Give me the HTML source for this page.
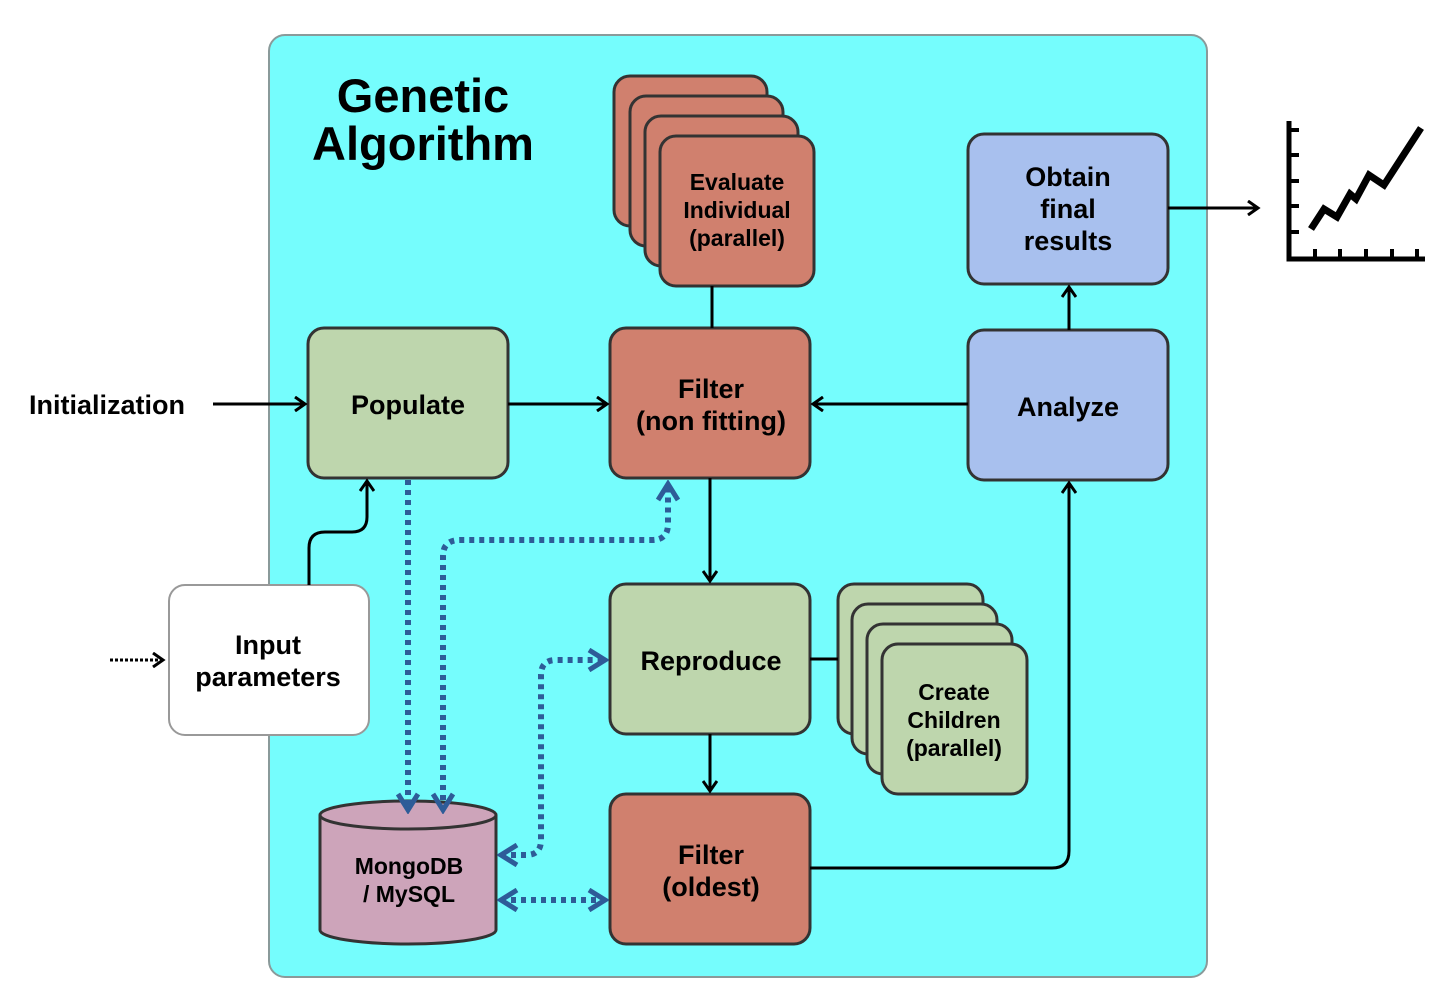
<!DOCTYPE html>
<html><head><meta charset="utf-8"><style>
html,body{margin:0;padding:0;background:#fff;}
svg{display:block}
text{font-family:"Liberation Sans",sans-serif;font-weight:bold;fill:#000;text-anchor:middle}
</style></head><body>
<svg width="1450" height="1008" viewBox="0 0 1450 1008" xmlns="http://www.w3.org/2000/svg">
<defs>
<marker id="ab" markerWidth="16" markerHeight="16" refX="12" refY="8" orient="auto" markerUnits="userSpaceOnUse">
<path d="M2,1 L12,8 L2,15" fill="none" stroke="#000" stroke-width="3"/></marker>
<marker id="abl" markerWidth="24" markerHeight="24" refX="20" refY="12" orient="auto-start-reverse" markerUnits="userSpaceOnUse">
<path d="M4,2 L20,12 L4,22" fill="none" stroke="#2e5c98" stroke-width="5"/></marker>
</defs>
<rect x="269" y="35" width="938" height="942" rx="16" fill="#75fdfd" stroke="#8a9a9a" stroke-width="2"/>
<text x="423" y="112" font-size="47">Genetic</text>
<text x="423" y="160" font-size="47">Algorithm</text>

<g stroke="#333" stroke-width="3">
<rect x="614" y="76" width="153" height="150" rx="16" fill="#d0806e"/>
<rect x="630" y="96" width="153" height="150" rx="16" fill="#d0806e"/>
<rect x="645" y="116" width="153" height="150" rx="16" fill="#d0806e"/>
<rect x="660" y="136" width="154" height="150" rx="16" fill="#d0806e"/>
<rect x="838" y="584" width="145" height="150" rx="16" fill="#bed6ad"/>
<rect x="852" y="604" width="145" height="150" rx="16" fill="#bed6ad"/>
<rect x="867" y="624" width="145" height="150" rx="16" fill="#bed6ad"/>
<rect x="882" y="644" width="145" height="150" rx="16" fill="#bed6ad"/>
<rect x="308" y="328" width="200" height="150" rx="16" fill="#bed6ad"/>
<rect x="610" y="328" width="200" height="150" rx="16" fill="#d0806e"/>
<rect x="968" y="134" width="200" height="150" rx="16" fill="#a8c0ee"/>
<rect x="968" y="330" width="200" height="150" rx="16" fill="#a8c0ee"/>
<rect x="610" y="584" width="200" height="150" rx="16" fill="#bed6ad"/>
<rect x="610" y="794" width="200" height="150" rx="16" fill="#d0806e"/>
<path d="M320,815 L320,930 A88,14 0 0 0 496,930 L496,815" fill="#cda4ba"/>
<ellipse cx="408" cy="815" rx="88" ry="14" fill="#cda4ba"/>
</g>
<rect x="169" y="585" width="200" height="150" rx="16" fill="#fff" stroke="#999" stroke-width="2"/>

<g stroke="#000" stroke-width="3" fill="none">
<line x1="213" y1="404" x2="305" y2="404" marker-end="url(#ab)"/>
<line x1="508" y1="404" x2="607" y2="404" marker-end="url(#ab)"/>
<line x1="968" y1="404" x2="813" y2="404" marker-end="url(#ab)"/>
<line x1="1069" y1="330" x2="1069" y2="287" marker-end="url(#ab)"/>
<line x1="1168" y1="208" x2="1258" y2="208" marker-end="url(#ab)"/>
<line x1="710" y1="478" x2="710" y2="581" marker-end="url(#ab)"/>
<line x1="710" y1="734" x2="710" y2="791" marker-end="url(#ab)"/>
<path d="M810,868 L1052,868 Q1069,868 1069,851 L1069,483" marker-end="url(#ab)"/>
<line x1="712" y1="286" x2="712" y2="328"/>
<line x1="810" y1="659" x2="838" y2="659"/>
<path d="M309,585 L309,548 Q309,532 325,532 L352,532 Q367,532 367,517 L367,481" marker-end="url(#ab)"/>
<line x1="110" y1="660" x2="163" y2="660" stroke-dasharray="3,2" marker-end="url(#ab)"/>
</g>

<g stroke="#2e5c98" stroke-width="6" fill="none" stroke-dasharray="5,5">
<line x1="408" y1="480" x2="408" y2="810" marker-end="url(#abl)"/>
<path d="M443,810 L443,556 Q443,540 460,540 L652,540 Q668,540 668,524 L668,484" marker-start="url(#abl)" marker-end="url(#abl)"/>
<path d="M501,855 L526,855 Q541,855 541,840 L541,675 Q541,660 556,660 L605,660" marker-start="url(#abl)" marker-end="url(#abl)"/>
<line x1="501" y1="900" x2="605" y2="900" marker-start="url(#abl)" marker-end="url(#abl)"/>
</g>

<g stroke="#000" fill="none">
<path d="M1289,121 L1289,259 L1425,259" stroke-width="5"/>
<path d="M1289,130h10M1289,155h10M1289,181h10M1289,206h10M1289,232h10" stroke-width="4"/>
<path d="M1315,259v-10M1340,259v-10M1366,259v-10M1392,259v-10M1417,259v-10" stroke-width="4"/>
<path d="M1311,229 L1324,209 L1337,217 L1350,194 L1356,199 L1369,175 L1384,185 L1421,128" stroke-width="7"/>
</g>

<text x="107" y="414" font-size="27">Initialization</text>
<text x="408" y="414" font-size="27">Populate</text>
<text x="711" y="398" font-size="27">Filter</text>
<text x="711" y="430" font-size="27">(non fitting)</text>
<text x="737" y="190" font-size="23">Evaluate</text>
<text x="737" y="218" font-size="23">Individual</text>
<text x="737" y="246" font-size="23">(parallel)</text>
<text x="1068" y="186" font-size="27">Obtain</text>
<text x="1068" y="218" font-size="27">final</text>
<text x="1068" y="250" font-size="27">results</text>
<text x="1068" y="416" font-size="27">Analyze</text>
<text x="711" y="670" font-size="27">Reproduce</text>
<text x="954" y="700" font-size="23">Create</text>
<text x="954" y="728" font-size="23">Children</text>
<text x="954" y="756" font-size="23">(parallel)</text>
<text x="711" y="864" font-size="27">Filter</text>
<text x="711" y="896" font-size="27">(oldest)</text>
<text x="268" y="654" font-size="27">Input</text>
<text x="268" y="686" font-size="27">parameters</text>
<text x="409" y="874" font-size="23">MongoDB</text>
<text x="409" y="902" font-size="23">/ MySQL</text>
</svg>
</body></html>
